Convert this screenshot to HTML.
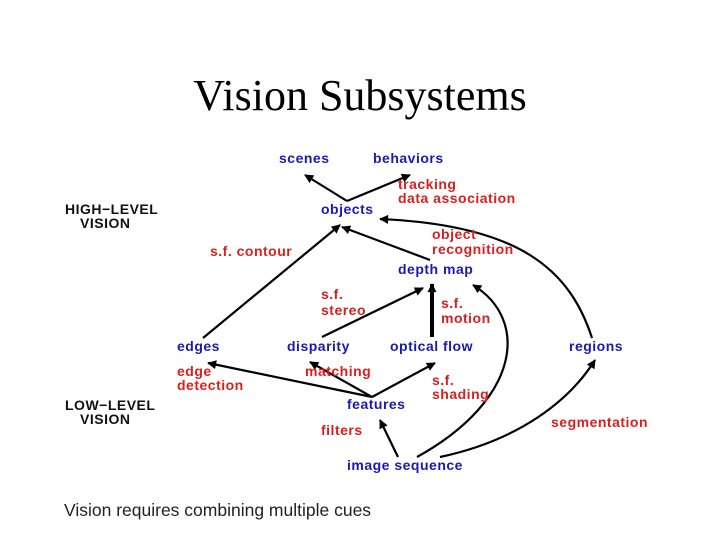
<!DOCTYPE html>
<html><head><style>
html,body{margin:0;padding:0;background:#fff;}
svg{display:block;}
.b{fill:#1a1ab0;font:bold 14px "Liberation Sans",sans-serif;letter-spacing:0.5px;}
.r{fill:#d82020;font:bold 14px "Liberation Sans",sans-serif;letter-spacing:0.5px;}
.k{fill:#111;font:bold 14px "Liberation Sans",sans-serif;letter-spacing:0.5px;}
</style></head><body>
<svg width="720" height="540" viewBox="0 0 720 540" xmlns="http://www.w3.org/2000/svg">
<defs>
<marker id="a2" viewBox="0 0 10 10" refX="9" refY="5" markerWidth="12" markerHeight="9" markerUnits="userSpaceOnUse" orient="auto">
<path d="M0,0 L10,5 L0,10 z" fill="#000"/></marker>
</defs>
<text x="360" y="110" text-anchor="middle" style="font:44px 'Liberation Serif',serif" fill="#000">Vision Subsystems</text>
<g stroke="#000" stroke-width="2.2" fill="none">
<line x1="347" y1="201" x2="305" y2="175" marker-end="url(#a2)"/>
<line x1="347" y1="201" x2="410" y2="175" marker-end="url(#a2)"/>
<line x1="203" y1="338" x2="340" y2="225" marker-end="url(#a2)"/>
<line x1="430" y1="260" x2="342" y2="227" marker-end="url(#a2)"/>
<path d="M592,338 C570,270 520,225 380,219" marker-end="url(#a2)"/>
<line x1="322" y1="337" x2="423" y2="288" marker-end="url(#a2)"/>
<line x1="432" y1="337" x2="432" y2="284" stroke-width="4" marker-end="url(#a2)"/>
<path d="M417,457 C520,400 530,320 473,285" marker-end="url(#a2)"/>
<path d="M440,457 C520,440 570,400 595,360" marker-end="url(#a2)"/>
<line x1="398" y1="457" x2="380" y2="420" marker-end="url(#a2)"/>
<line x1="372" y1="397" x2="208" y2="363" marker-end="url(#a2)"/>
<line x1="372" y1="397" x2="310" y2="362" marker-end="url(#a2)"/>
<line x1="372" y1="397" x2="435" y2="363" marker-end="url(#a2)"/>
</g>
<text class="b" x="279" y="163">scenes</text>
<text class="b" x="373" y="163">behaviors</text>
<text class="r" x="398" y="189">tracking</text>
<text class="r" x="398" y="203">data association</text>
<text class="b" x="321" y="214">objects</text>
<text class="r" x="432" y="239">object</text>
<text class="r" x="432" y="254">recognition</text>
<text class="r" x="210" y="256">s.f. contour</text>
<text class="b" x="398" y="274">depth map</text>
<text class="r" x="321" y="299">s.f.</text>
<text class="r" x="321" y="315">stereo</text>
<text class="r" x="441" y="308">s.f.</text>
<text class="r" x="441" y="323">motion</text>
<text class="b" x="177" y="351">edges</text>
<text class="b" x="287" y="351">disparity</text>
<text class="b" x="390" y="351">optical flow</text>
<text class="b" x="569" y="351">regions</text>
<text class="r" x="177" y="376">edge</text>
<text class="r" x="177" y="390">detection</text>
<text class="r" x="305" y="376">matching</text>
<text class="r" x="432" y="385">s.f.</text>
<text class="r" x="432" y="399">shading</text>
<text class="b" x="347" y="409">features</text>
<text class="r" x="321" y="435">filters</text>
<text class="r" x="551" y="427">segmentation</text>
<text class="b" x="347" y="470">image sequence</text>
<text class="k" x="65" y="214">HIGH−LEVEL</text>
<text class="k" x="80" y="228">VISION</text>
<text class="k" x="65" y="410">LOW−LEVEL</text>
<text class="k" x="80" y="424">VISION</text>
<text x="64" y="516" style="font:17.5px 'Liberation Sans',sans-serif" fill="#222">Vision requires combining multiple cues</text>
</svg>
</body></html>
